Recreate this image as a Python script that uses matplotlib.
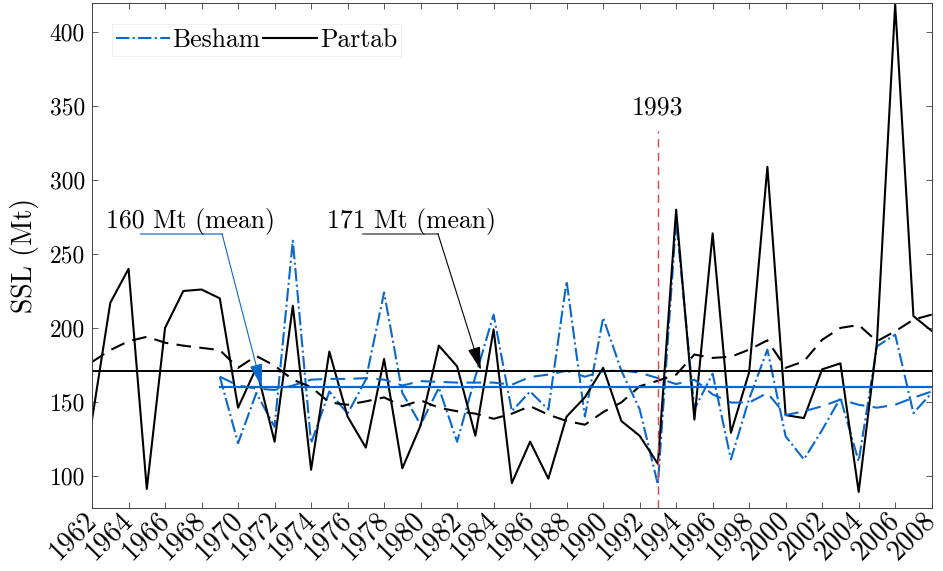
import numpy as np
import matplotlib
matplotlib.use("Agg")
from matplotlib import pyplot as plt

plt.rcParams['font.family'] = 'serif'
plt.rcParams['font.serif'] = ['cmr10']
plt.rcParams['mathtext.fontset'] = 'cm'
plt.rcParams['axes.unicode_minus'] = False

# annual suspended sediment load (Mt)
years = np.arange(1962, 2009)
partab = [138, 217, 240, 91, 200, 225, 226, 220, 146, 173, 123, 215, 104, 184, 140, 119,
          179, 105, 134, 188, 174, 127, 199, 95, 123, 98, 140, 153, 173, 137, 127, 108,
          280, 138, 264, 129, 170, 309, 141, 139, 172, 176, 89, 190, 419, 208, 198]
partab_trend = [177, 185, 191, 194, 190, 188, 186.5, 185, 173, 181, 174.5, 165, 160, 149.6,
                148, 150.3, 153, 147, 151, 146, 143.6, 142, 138.5, 142, 147, 141.3, 137,
                134.5, 143, 149.6, 160.5, 164.3, 168.4, 182, 179.7, 180.5, 185.3, 191.6,
                173, 177.4, 192, 200, 202, 191, 197.7, 205.6, 209]

years_b = np.arange(1969, 2009)
besham = [167, 122, 156, 133, 259, 122, 157, 142, 165, 224, 156, 134.5, 159.5, 123, 167,
          209, 143.6, 157, 144.7, 231.6, 140, 207, 171, 145, 94, 273, 145, 169, 111, 152,
          185.3, 126.6, 111, 131, 152.6, 109.7, 187.5, 195.5, 142.4, 156]
besham_trend = [167, 161, 159, 158, 161, 165, 165.5, 165.5, 166, 165, 161, 164, 163.5, 163,
                163, 163, 161.6, 166.8, 168.4, 171, 167, 170.6, 171.3, 169.7, 166, 162, 165,
                155, 149.5, 149.5, 156, 141, 143.6, 147, 151.5, 148, 146, 148, 152.8, 157]

partab_mean = 171
besham_mean = 160
break_year = 1993

blue = '#0a68cc'
fig = plt.figure(figsize=(9.43, 5.71), dpi=100)
ax = fig.add_axes([0.0976, 0.110, 0.8904, 0.885])

ax.plot(years_b, besham, color=blue, lw=1.5, ls='-.', label='Besham')
ax.plot(years, partab, color='black', lw=1.5, label='Partab')
ax.plot(years, partab_trend, color='black', lw=1.5, ls=(0, (7, 4)))
ax.plot(years_b, besham_trend, color=blue, lw=1.5, ls=(0, (7, 4)))
ax.plot([years[0], years[-1]], [partab_mean] * 2, color='black', lw=1.4)
ax.plot([years_b[0], years_b[-1]], [besham_mean] * 2, color=blue, lw=1.6)

ax.plot([break_year, break_year], [78, 333], color='#e0404a', lw=1, ls=(0, (6, 4)))
ax.text(break_year, 344.4, str(break_year), ha='center', va='baseline', fontsize=18.5)

# mean annotations
head = '-|>,head_length=0.8,head_width=0.22'
ax.text(1967.4, 267.9, '160 Mt (mean)', ha='center', va='baseline', fontsize=18.5)
ax.plot([1964.68, 1969.12], [263.8, 263.8], color='#4d94db', lw=1.2)
ax.annotate('', xy=(1971.3, 160), xytext=(1969.12, 263.8),
            arrowprops=dict(arrowstyle=head, color=blue, lw=0.8,
                            shrinkA=0, shrinkB=0, mutation_scale=18))
ax.text(1979.5, 267.9, '171 Mt (mean)', ha='center', va='baseline', fontsize=18.5)
ax.plot([1976.84, 1980.95], [263.8, 263.8], color='#666666', lw=1.2)
ax.annotate('', xy=(1983.3, 171.5), xytext=(1980.95, 263.8),
            arrowprops=dict(arrowstyle=head, color='black', lw=0.8,
                            shrinkA=0, shrinkB=0, mutation_scale=18))

ax.set_xlim(1962, 2008)
ax.set_ylim(78, 420)
ax.set_xticks(np.arange(1962, 2009, 2))
ax.set_xticklabels([str(y) for y in range(1962, 2009, 2)], rotation=45,
                   ha='right', va='center', rotation_mode='anchor', fontsize=20)
ax.set_yticks(np.arange(100, 401, 50))
ax.tick_params(axis='y', labelsize=17, pad=5)
ax.tick_params(direction='in', top=True, right=True, length=4, width=0.6,
               color='#404040')
ax.tick_params(axis='x', pad=6)
for s in ax.spines.values():
    s.set_linewidth(0.7)
    s.set_color('#404040')
ax.set_ylabel('SSL (Mt)', fontsize=20, labelpad=8)

leg = ax.legend(loc='upper left', bbox_to_anchor=(0.024, 0.958), ncol=2, fontsize=18.5,
                frameon=True, fancybox=False, edgecolor='#eeeeee', framealpha=1,
                handlelength=2.1, handletextpad=0.1, columnspacing=0.1,
                borderpad=0.15, borderaxespad=0)
leg.get_frame().set_linewidth(0.6)

fig.savefig('out.png', dpi=100)
